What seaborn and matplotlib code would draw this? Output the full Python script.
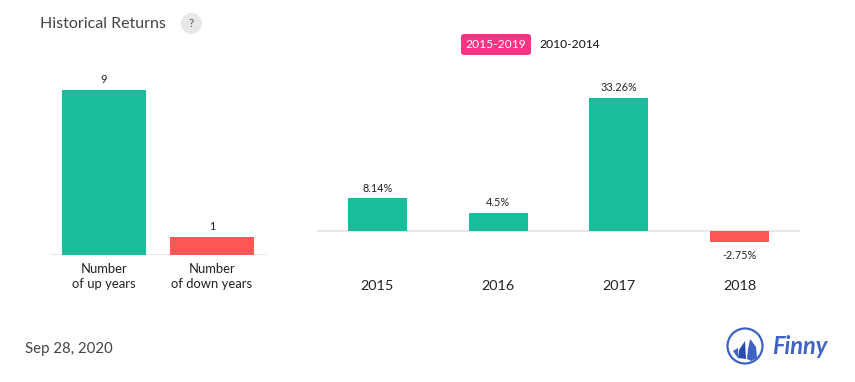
import matplotlib
matplotlib.use("Agg")
import matplotlib.pyplot as plt
from matplotlib.patches import Circle, FancyBboxPatch, Polygon
import pandas as pd
import seaborn as sns

count_labels = ["Number\nof up years", "Number\nof down years"]
count_values = [9, 1]
years = ["2015", "2016", "2017", "2018"]
returns = [8.14, 4.5, 33.26, -2.75]
return_labels = ["8.14%", "4.5%", "33.26%", "-2.75%"]

GREEN = "#1abc9c"
RED = "#ff5656"
W, H = 855, 382

sns.set_theme(style="white")
plt.rcParams["font.family"] = ["Lato", "DejaVu Sans"]

fig = plt.figure(figsize=(W / 100, H / 100), dpi=100, facecolor="white")


def px_axes(x0, y0, x1, y1):
    return fig.add_axes([x0 / W, 1 - y1 / H, (x1 - x0) / W, (y1 - y0) / H])


def style(ax):
    for s in ax.spines.values():
        s.set_visible(False)
    ax.axhline(0, color="#e6e6e6", lw=1.3, zorder=1)
    ax.set_xlabel("")
    ax.set_ylabel("")
    ax.set_yticks([])
    ax.tick_params(axis="x", length=0, colors="#222222")


def sign_colour(vals):
    return [GREEN if v >= 0 else RED for v in vals]


# Left panel
axl = px_axes(50, 60, 266, 255)
dfl = pd.DataFrame({"label": count_labels, "value": count_values})
sns.barplot(data=dfl, x="label", y="value", hue="label", palette=[GREEN, RED],
            width=0.78, legend=False, ax=axl, zorder=2, saturation=1, linewidth=0)
axl.set_ylim(0, 195 / 18.33)
axl.set_xlim(-0.5, 1.5)
style(axl)
axl.tick_params(axis="x", labelsize=9.4, pad=6)
for lab in axl.get_xticklabels():
    lab.set_linespacing(1.25)
for c, v in zip(axl.containers, count_values):
    axl.bar_label(c, labels=[str(v)], padding=3.5, fontsize=7.8, color="#222222")

# Right panel
axr = px_axes(317, 60, 800, 270)
dfr = pd.DataFrame({"year": years, "ret": returns})
sns.barplot(data=dfr, x="year", y="ret", hue="year", palette=sign_colour(returns),
            width=0.49, legend=False, ax=axr, zorder=2, saturation=1, linewidth=0)
axr.set_ylim(-39 / 4, 171 / 4)
axr.set_xlim(-0.5, 3.5)
style(axr)
axr.tick_params(axis="x", labelsize=10.4, pad=7)
for c, t, v in zip(axr.containers, return_labels, returns):
    axr.bar_label(c, labels=[t], padding=3.5 if v >= 0 else 6, fontsize=7.8, color="#222222")

# Overlay in pixel coordinates for title, toggle and logo
ov = fig.add_axes([0, 0, 1, 1], zorder=5)
ov.set_xlim(0, W)
ov.set_ylim(H, 0)
ov.axis("off")
ov.patch.set_alpha(0)

ov.text(40, 24, "Historical Returns", fontsize=11.5, color="#444444", va="center", ha="left")
ov.add_patch(Circle((191.5, 23.5), 10.5, fc="#e8e8e8", ec="none"))
ov.text(191.5, 23.5, "?", fontsize=8.5, color="#555555", ha="center", va="center")

ov.add_patch(FancyBboxPatch((461, 34), 70, 21, boxstyle="round,pad=0,rounding_size=3",
                            fc="#fb3385", ec="none"))
ov.text(496, 45, "2015-2019", fontsize=8.7, color="white", ha="center", va="center")
ov.text(569.5, 45, "2010-2014", fontsize=8.7, color="#111111", ha="center", va="center")

ov.text(25, 348.5, "Sep 28, 2020", fontsize=10.8, color="#444444", ha="left", va="center")

# Finny logo
BLUE = "#3f62c4"
DARK = "#2a4bae"
ov.add_patch(Circle((745, 346), 17.5, fc="white", ec=BLUE, lw=1.6))
ov.add_patch(Polygon([(733, 351), (738, 348), (738, 358)], fc=BLUE, ec="none"))
ov.add_patch(Polygon([(738, 358), (739, 350), (745, 341), (746, 359)], fc=DARK, ec="none"))
ov.add_patch(Polygon([(747, 359), (748, 349), (750, 340), (749, 339), (751, 340), (756, 347), (757, 358), (751, 361)], fc=BLUE, ec="none"))
ov.text(772, 347, "Finny", fontsize=17, color=BLUE, style="italic", weight="bold",
        ha="left", va="center", family=["Lato", "DejaVu Sans"])

fig.savefig("out.png", dpi=100)
